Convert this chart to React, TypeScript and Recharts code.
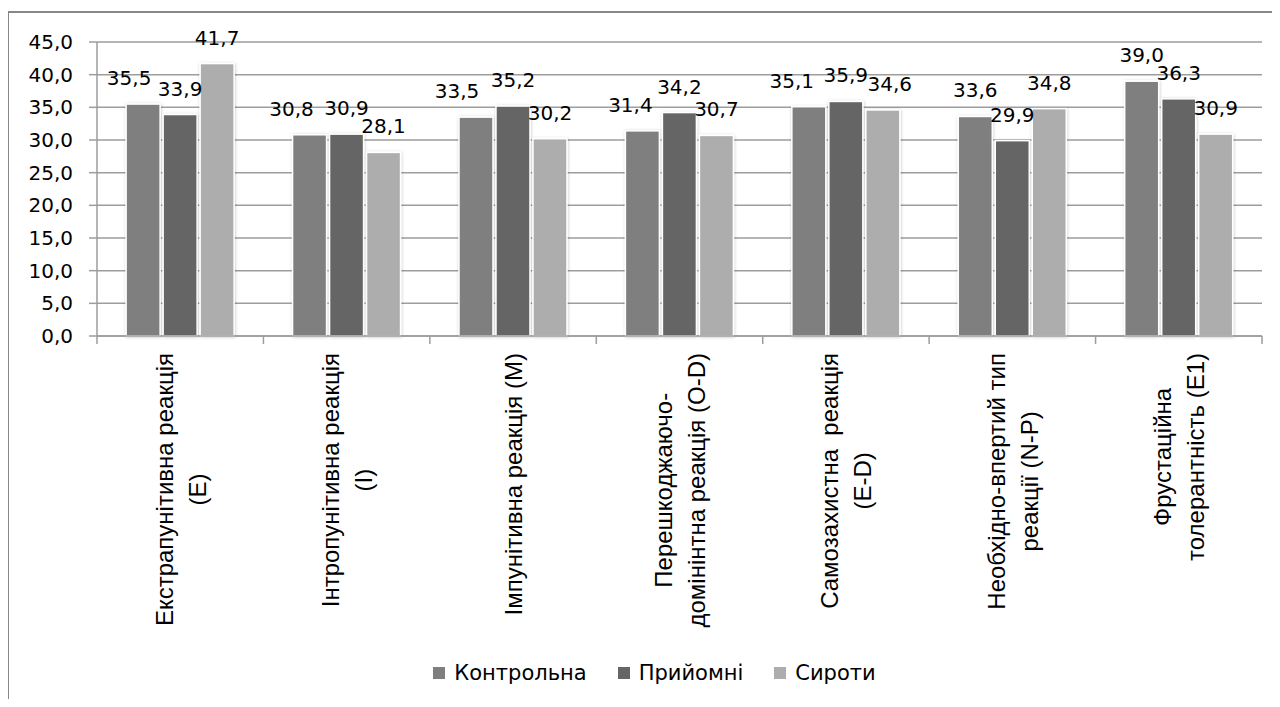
import React from 'react';
import { BarChart, Bar, XAxis, YAxis, CartesianGrid, Legend, LabelList } from 'recharts';

// ---- data ----
const categories: string[] = [
  'Екстрапунітивна реакція\n(E)',
  'Інтропунітивна реакція\n(I)',
  'Імпунітивна реакція (M)',
  'Перешкоджаючо-\nдомінінтна реакція (O-D)',
  'Самозахистна  реакція\n(E-D)',
  'Необхідно-впертий тип\nреакції (N-P)',
  'Фрустаційна\nтолерантність (E1)',
];
const control: number[] = [35.5, 30.8, 33.5, 31.4, 35.1, 33.6, 39.0];
const foster: number[] = [33.9, 30.9, 35.2, 34.2, 35.9, 29.9, 36.3];
const orphans: number[] = [41.7, 28.1, 30.2, 30.7, 34.6, 34.8, 30.9];
const seriesNames: string[] = ['Контрольна', 'Прийомні', 'Сироти'];
const yTicks: number[] = [0, 5, 10, 15, 20, 25, 30, 35, 40, 45];

// ---- layout / style ----
const W = 1280;
const H = 707;
const M_TOP = 42;
const M_RIGHT = 18;
const Y_W = 97;
const LEGEND_H = 46;
const X_H = 325;
const BAND = (W - Y_W - M_RIGHT) / categories.length;
const COLORS = ['#7f7f7f', '#656565', '#adadad'];
const AXIS_COLOR = '#9d9d9d';
const NUM_FONT = '"DejaVu Sans"';
const NUM_FS = 20;
const X_FONT = '"Liberation Sans"';
const X_FS = 24;
const X_LINE_H = 33;
const X_BASE_SHIFT = 9;
const X_TOP_GAP = 17;
// manual horizontal nudges of the value labels (as in the source)
const LABEL_NUDGE: number[][] = [
  [-14, -18, -19, -12, -17, 0, 0],
  [0, 0, 0, 0, 0, 0, 0],
  [0, 0, 0, 0, 7, 0, 0],
];

const data = categories.map((c, i) => ({
  category: c,
  control: control[i],
  foster: foster[i],
  orphans: orphans[i],
}));

const fmt = (v: number) => v.toFixed(1).replace('.', ',');

let ctx: CanvasRenderingContext2D | null = null;
function textWidth(s: string, font: string): number {
  if (!ctx && typeof document !== 'undefined') {
    ctx = document.createElement('canvas').getContext('2d');
  }
  if (!ctx) return s.length * X_FS * 0.5;
  ctx.font = font;
  return ctx.measureText(s).width;
}

function XTick(props: any) {
  const { x, y, payload, index } = props;
  const lines = String(payload.value).split('\n');
  const font = `${X_FS}px ${X_FONT}`;
  const maxLen = Math.max(...lines.map((l) => textWidth(l, font)));
  const cy = y + X_TOP_GAP + maxLen / 2;
  const n = lines.length;
  return (
    <g>
      <line x1={x - BAND / 2} y1={y} x2={x - BAND / 2} y2={y + 8} stroke={AXIS_COLOR} strokeWidth={1.5} />
      {index === categories.length - 1 && (
        <line x1={x + BAND / 2} y1={y} x2={x + BAND / 2} y2={y + 8} stroke={AXIS_COLOR} strokeWidth={1.5} />
      )}
      {lines.map((l, k) => {
        const bx = x + (k - (n - 1) / 2) * X_LINE_H + X_BASE_SHIFT;
        return (
          <text
            key={k}
            x={bx}
            y={cy}
            transform={`rotate(-90 ${bx} ${cy})`}
            textAnchor="middle"
            fontFamily={X_FONT}
            fontSize={X_FS}
            fill="#000"
            style={{ whiteSpace: 'pre' }}
          >
            {l}
          </text>
        );
      })}
    </g>
  );
}

function makeLabel(series: number) {
  return (props: any) => {
    const { x, y, width, value, index } = props;
    const cx = Number(x) + Number(width) / 2 + LABEL_NUDGE[series][index];
    return (
      <text
        x={cx}
        y={Number(y) - 19}
        textAnchor="middle"
        fontFamily={NUM_FONT}
        fontSize={NUM_FS}
        fill="#000"
      >
        {fmt(Number(value))}
      </text>
    );
  };
}

function BarShape(props: any) {
  const { x, y, width, height, fill } = props;
  if (!height || height <= 0) return null;
  return (
    <rect
      x={x}
      y={y}
      width={width}
      height={height}
      fill={fill}
      stroke="#fff"
      strokeWidth={1.5}
      filter="url(#barShadow)"
    />
  );
}

function LegendContent() {
  return (
    <div
      style={{
        height: LEGEND_H,
        display: 'flex',
        justifyContent: 'center',
        alignItems: 'flex-start',
        paddingLeft: 47,
        boxSizing: 'border-box',
      }}
    >
      {seriesNames.map((n, i) => (
        <div key={n} style={{ display: 'flex', alignItems: 'center', marginRight: i < 2 ? 31 : 0, height: 24 }}>
          <div style={{ width: 12, height: 12, background: COLORS[i], marginRight: 9 }} />
          <span style={{ fontFamily: NUM_FONT, fontSize: 21, color: '#000', lineHeight: '24px' }}>{n}</span>
        </div>
      ))}
    </div>
  );
}

export default function App() {
  return (
    <div style={{ margin: -8, width: W, height: H, position: 'relative', overflow: 'hidden', background: '#fff' }}>
      <svg width={0} height={0} style={{ position: 'absolute' }}>
        <defs>
          <filter id="barShadow" x="-20%" y="-5%" width="140%" height="110%">
            <feDropShadow dx={0.5} dy={0.5} stdDeviation={1.6} floodColor="#000" floodOpacity={0.22} />
          </filter>
        </defs>
      </svg>
      <div
        style={{
          position: 'absolute',
          left: 7,
          top: 11,
          width: W,
          height: H,
          borderTop: '2px solid #878787',
          borderLeft: '2px solid #878787',
        }}
      />
      <div style={{ position: 'absolute', left: 0, top: 0 }}>
        <BarChart
          width={W}
          height={H}
          data={data}
          margin={{ top: M_TOP, right: M_RIGHT, bottom: 0, left: 0 }}
          barCategoryGap="17.5%"
          barGap={3}
        >
          <CartesianGrid vertical={false} stroke={AXIS_COLOR} strokeWidth={1.5} />
          <XAxis
            dataKey="category"
            interval={0}
            height={X_H}
            tickLine={false}
            tickSize={0}
            tickMargin={0}
            axisLine={{ stroke: AXIS_COLOR, strokeWidth: 1.5 }}
            tick={(p: any) => <XTick {...p} />}
          />
          <YAxis
            width={Y_W}
            domain={[0, 45]}
            ticks={yTicks}
            interval={0}
            tickFormatter={fmt}
            tickSize={8}
            tickMargin={16}
            tickLine={{ stroke: AXIS_COLOR, strokeWidth: 1.5 }}
            axisLine={{ stroke: AXIS_COLOR, strokeWidth: 1.5 }}
            tick={{ fontFamily: NUM_FONT, fontSize: NUM_FS, fill: '#000' }}
          />
          <Legend verticalAlign="bottom" height={LEGEND_H} content={() => <LegendContent />} />
          <Bar dataKey="control" name={seriesNames[0]} fill={COLORS[0]} shape={(p: any) => <BarShape {...p} />} isAnimationActive={false}>
            <LabelList dataKey="control" content={makeLabel(0)} />
          </Bar>
          <Bar dataKey="foster" name={seriesNames[1]} fill={COLORS[1]} shape={(p: any) => <BarShape {...p} />} isAnimationActive={false}>
            <LabelList dataKey="foster" content={makeLabel(1)} />
          </Bar>
          <Bar dataKey="orphans" name={seriesNames[2]} fill={COLORS[2]} shape={(p: any) => <BarShape {...p} />} isAnimationActive={false}>
            <LabelList dataKey="orphans" content={makeLabel(2)} />
          </Bar>
        </BarChart>
      </div>
    </div>
  );
}
